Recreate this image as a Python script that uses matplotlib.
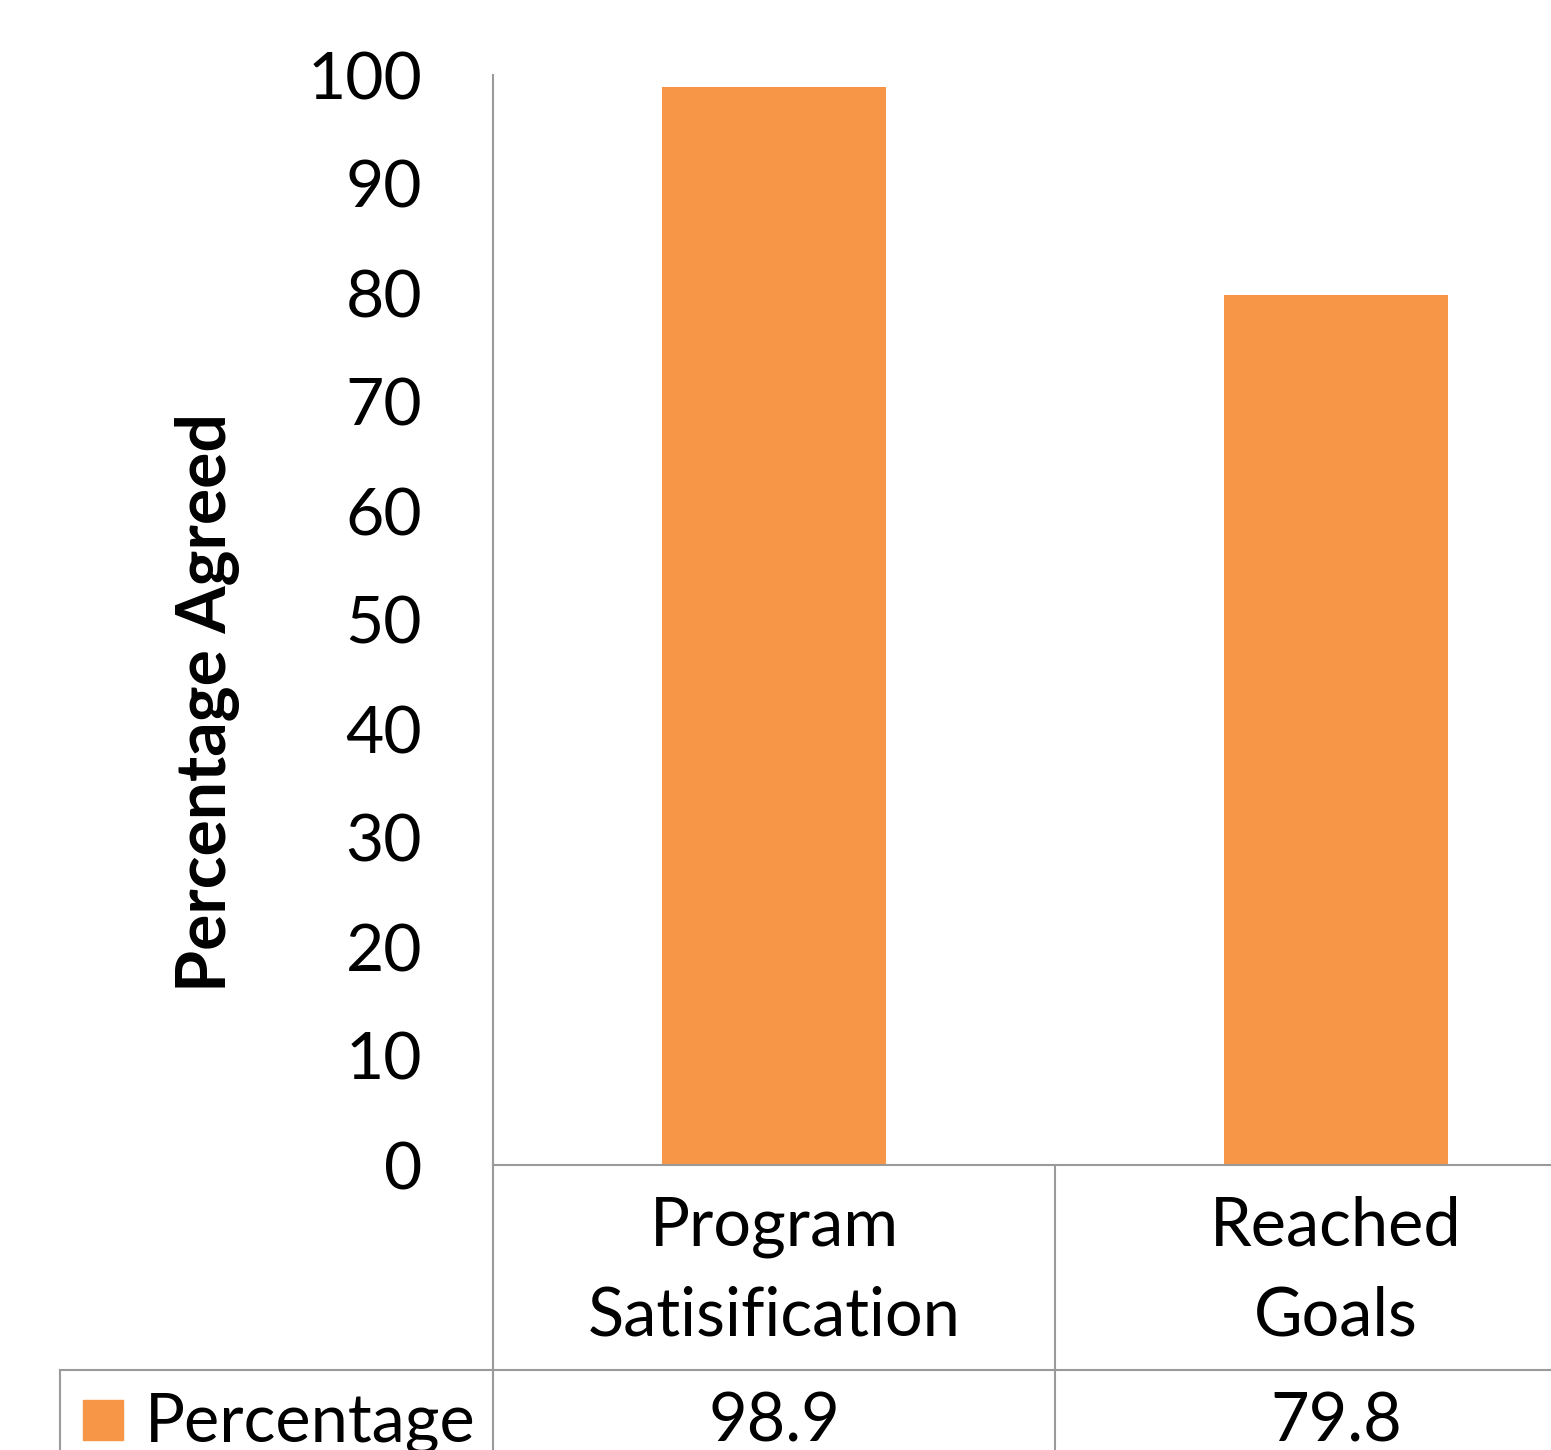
import matplotlib
matplotlib.use("Agg")
import matplotlib.pyplot as plt
from matplotlib.patches import Rectangle
from matplotlib.lines import Line2D
import matplotlib.transforms as mtransforms

categories = ["Program\nSatisification", "Reached\nGoals"]
values = [98.9, 79.8]
value_labels = ["98.9", "79.8"]
series_name = "Percentage"
yticks = [0, 10, 20, 30, 40, 50, 60, 70, 80, 90, 100]
ylabel = "Percentage Agreed"

BAR = "#F79646"
GRID = "#9a9a9a"
FONT = "Lato"
W, H = 1551, 1450

plt.rcParams['font.family'] = [FONT, 'DejaVu Sans']
fig = plt.figure(figsize=(W / 100, H / 100), dpi=100)
fig.patch.set_facecolor("white")

def fx(px):
    return px / W

def fy(py):
    return 1 - py / H

ax = fig.add_axes([fx(493), fy(1165), fx(1617) - fx(493), fy(75) - fy(1165)])
x = list(range(len(categories)))
ax.bar(x, values, width=0.4, color=BAR, zorder=2)
ax.set_xlim(-0.5, len(categories) - 0.5)
ax.set_ylim(0, 100)
ax.set_yticks(yticks)
ax.set_yticklabels([str(t) for t in yticks], fontsize=47.5)
ax.tick_params(axis='y', length=0, pad=51)
ax.set_xticks([])
for s in ["top", "right"]:
    ax.spines[s].set_visible(False)
for s in ["left", "bottom"]:
    ax.spines[s].set_color(GRID)
    ax.spines[s].set_linewidth(1.5)

fig.text(fx(208), fy(702), ylabel, rotation=90, ha='center', va='center',
         fontsize=49, fontweight='bold')

# data table lines
blend = mtransforms.blended_transform_factory(ax.transData, fig.transFigure)
for xv in [-0.5 + i for i in range(len(categories) + 1)]:
    fig.add_artist(Line2D([xv, xv], [0, fy(1165)], transform=blend, color=GRID,
                          lw=1.5, clip_on=False))
fig.add_artist(Line2D([fx(60), 1], [fy(1370), fy(1370)], transform=fig.transFigure,
                      color=GRID, lw=1.5))
fig.add_artist(Line2D([fx(60), fx(60)], [0, fy(1370)], transform=fig.transFigure,
                      color=GRID, lw=1.5))

# category labels
for xi, cat in zip(x, categories):
    lines = cat.split("\n")
    for j, ln in enumerate(lines):
        ax.text(xi, fy(1245 + 90 * j), ln, transform=blend, ha='center',
                va='baseline', fontsize=48, clip_on=False)

# values row (clipped at the bottom edge, as in the reference)
for xi, lab in zip(x, value_labels):
    ax.text(xi, fy(1441), lab, transform=blend, ha='center', va='baseline',
            fontsize=48, clip_on=False)

fig.add_artist(Rectangle((fx(83), fy(1440)), fx(123) - fx(83), fy(1400) - fy(1440),
                         transform=fig.transFigure, color=BAR))
fig.text(fx(145), fy(1441), series_name, ha='left', va='baseline', fontsize=48)

fig.savefig("out.png", dpi=100)
